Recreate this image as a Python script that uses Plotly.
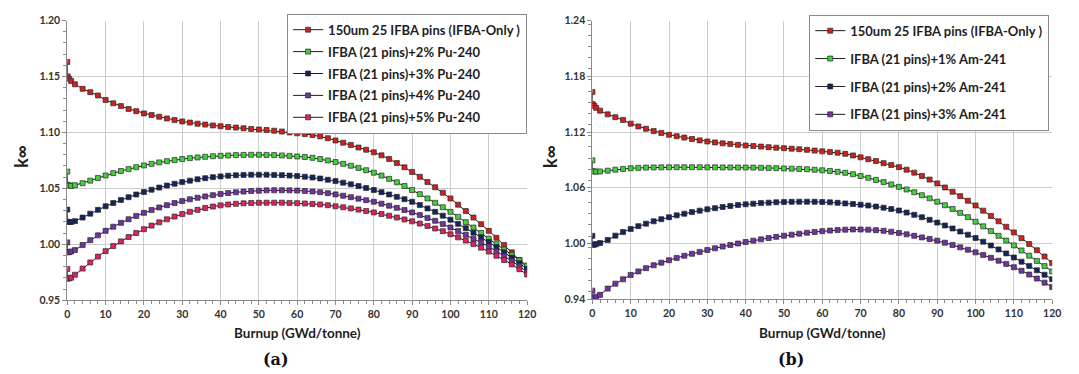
import plotly.graph_objects as go

# Burnup steps (GWd/tonne)
BURNUP = [0, 0.1, 0.5, 1, 2] + list(range(4, 121, 2))

# k-infinity, reference IFBA-only lattice (shared by both panels)
IFBA_ONLY = [1.163, 1.150, 1.148, 1.146, 1.143,
             1.139, 1.136, 1.133, 1.129, 1.126, 1.1235, 1.121, 1.119, 1.117, 1.1155,
             1.114, 1.1125, 1.111, 1.1098, 1.1088, 1.1078, 1.107, 1.1062, 1.1055, 1.1049,
             1.1043, 1.1037, 1.1031, 1.1026, 1.1021, 1.1015, 1.1008, 1.1000, 1.0992, 1.0985,
             1.0977, 1.0965, 1.0948, 1.0928, 1.0908, 1.0888, 1.0865, 1.0845, 1.0822, 1.0795,
             1.0763, 1.0727, 1.0688, 1.0647, 1.0603, 1.0557, 1.0510, 1.0461, 1.0410, 1.0354,
             1.0297, 1.0239, 1.0180, 1.0120, 1.0058, 0.9994, 0.9928, 0.9860, 0.9790]

# (a) IFBA (21 pins) + Pu-240
PU2 = [1.065, 1.0532, 1.0525, 1.0522, 1.0528,
       1.0546, 1.0569, 1.0592, 1.0615, 1.0636, 1.0655, 1.0672, 1.0689, 1.0705, 1.0719,
       1.0732, 1.0743, 1.0753, 1.0762, 1.0770, 1.0776, 1.0782, 1.0787, 1.0791, 1.0794,
       1.0797, 1.0799, 1.0800, 1.0800, 1.0799, 1.0797, 1.0794, 1.0790, 1.0785, 1.0780,
       1.0773, 1.0762, 1.0749, 1.0735, 1.0719, 1.0702, 1.0683, 1.0662, 1.0640, 1.0614,
       1.0585, 1.0554, 1.0521, 1.0485, 1.0448, 1.0410, 1.0371, 1.0331, 1.0290, 1.0245,
       1.0198, 1.0150, 1.0101, 1.0050, 1.0001, 0.9953, 0.9905, 0.9857, 0.9810]
PU3 = [1.031, 1.0201, 1.0199, 1.0200, 1.0207,
       1.0239, 1.0274, 1.0308, 1.0340, 1.0369, 1.0396, 1.0421, 1.0445, 1.0467, 1.0488,
       1.0507, 1.0525, 1.0541, 1.0556, 1.0569, 1.0581, 1.0591, 1.0600, 1.0607, 1.0613,
       1.0617, 1.0620, 1.0622, 1.0622, 1.0622, 1.0620, 1.0618, 1.0614, 1.0610, 1.0604,
       1.0597, 1.0588, 1.0577, 1.0565, 1.0551, 1.0536, 1.0520, 1.0503, 1.0485, 1.0466,
       1.0445, 1.0424, 1.0403, 1.0380, 1.0351, 1.0321, 1.0290, 1.0256, 1.0220, 1.0183,
       1.0144, 1.0104, 1.0063, 1.0020, 0.9975, 0.9928, 0.9880, 0.9831, 0.9780]
PU4 = [1.0017, 0.9928, 0.9930, 0.9936, 0.9948,
       0.9993, 1.0037, 1.0080, 1.0120, 1.0157, 1.0192, 1.0224, 1.0254, 1.0281, 1.0306,
       1.0329, 1.0350, 1.0369, 1.0386, 1.0402, 1.0416, 1.0428, 1.0439, 1.0449, 1.0458,
       1.0465, 1.0471, 1.0476, 1.0479, 1.0482, 1.0483, 1.0483, 1.0482, 1.0480, 1.0477,
       1.0472, 1.0466, 1.0457, 1.0446, 1.0434, 1.0421, 1.0408, 1.0394, 1.0380, 1.0363,
       1.0345, 1.0326, 1.0306, 1.0285, 1.0261, 1.0236, 1.0210, 1.0181, 1.0150, 1.0118,
       1.0085, 1.0050, 1.0015, 0.9980, 0.9938, 0.9895, 0.9850, 0.9803, 0.9755]
PU5 = [0.978, 0.9693, 0.9696, 0.9702, 0.9728,
       0.9783, 0.9838, 0.9890, 0.9939, 0.9984, 1.0026, 1.0065, 1.0101, 1.0135, 1.0167,
       1.0196, 1.0223, 1.0248, 1.0270, 1.0290, 1.0308, 1.0324, 1.0337, 1.0348, 1.0356,
       1.0362, 1.0366, 1.0369, 1.0371, 1.0372, 1.0372, 1.0372, 1.0370, 1.0368, 1.0365,
       1.0361, 1.0356, 1.0349, 1.0340, 1.0331, 1.0321, 1.0310, 1.0298, 1.0285, 1.0270,
       1.0255, 1.0239, 1.0222, 1.0205, 1.0185, 1.0164, 1.0141, 1.0117, 1.0090, 1.0062,
       1.0033, 1.0002, 0.9970, 0.9935, 0.9898, 0.9860, 0.9820, 0.9777, 0.9730]

# (b) IFBA (21 pins) + Am-241
AM1 = [1.0895, 1.0777, 1.0775, 1.0774, 1.0775,
       1.0784, 1.0795, 1.0803, 1.0810, 1.0814, 1.0817, 1.0819, 1.0820, 1.0821, 1.0821,
       1.0821, 1.0821, 1.0821, 1.0820, 1.0820, 1.0819, 1.0819, 1.0818, 1.0818, 1.0817,
       1.0815, 1.0813, 1.0811, 1.0808, 1.0806, 1.0803, 1.0799, 1.0794, 1.0788, 1.0781,
       1.0772, 1.0761, 1.0746, 1.0727, 1.0707, 1.0685, 1.0661, 1.0636, 1.0610, 1.0582,
       1.0552, 1.0520, 1.0486, 1.0450, 1.0412, 1.0372, 1.0330, 1.0284, 1.0235, 1.0185,
       1.0134, 1.0083, 1.0032, 0.9980, 0.9925, 0.9869, 0.9813, 0.9757, 0.9700]
AM2 = [1.0083, 0.9986, 0.9988, 0.9994, 1.0005,
       1.0038, 1.0085, 1.0123, 1.0157, 1.0187, 1.0214, 1.0239, 1.0262, 1.0283, 1.0303,
       1.0321, 1.0338, 1.0354, 1.0368, 1.0381, 1.0393, 1.0404, 1.0414, 1.0422, 1.0429,
       1.0435, 1.0440, 1.0444, 1.0447, 1.0449, 1.0450, 1.0450, 1.0449, 1.0447, 1.0443,
       1.0438, 1.0432, 1.0425, 1.0418, 1.0409, 1.0398, 1.0386, 1.0371, 1.0355, 1.0333,
       1.0309, 1.0283, 1.0255, 1.0225, 1.0194, 1.0162, 1.0129, 1.0095, 1.0060, 1.0020,
       0.9979, 0.9937, 0.9894, 0.9850, 0.9805, 0.9759, 0.9712, 0.9664, 0.9616]
AM3 = [0.9493, 0.9414, 0.9418, 0.9428, 0.9448,
       0.9515, 0.9568, 0.9615, 0.9662, 0.9700, 0.9735, 0.9766, 0.9794, 0.9820, 0.9845,
       0.9868, 0.9890, 0.9910, 0.9930, 0.9949, 0.9967, 0.9984, 1.0000, 1.0016, 1.0031,
       1.0045, 1.0059, 1.0072, 1.0084, 1.0095, 1.0106, 1.0116, 1.0125, 1.0133, 1.0139,
       1.0145, 1.0149, 1.0151, 1.0151, 1.0149, 1.0144, 1.0137, 1.0127, 1.0114, 1.0099,
       1.0083, 1.0066, 1.0049, 1.0031, 1.0009, 0.9985, 0.9959, 0.9933, 0.9905, 0.9877,
       0.9847, 0.9815, 0.9781, 0.9745, 0.9707, 0.9666, 0.9623, 0.9579, 0.9533]

LABELS_A = ["150um 25 IFBA pins (IFBA-Only )", "IFBA (21 pins)+2% Pu-240",
            "IFBA (21 pins)+3% Pu-240", "IFBA (21 pins)+4% Pu-240",
            "IFBA (21 pins)+5% Pu-240"]
LABELS_B = ["150um 25 IFBA pins (IFBA-Only )", "IFBA (21 pins)+1% Am-241",
            "IFBA (21 pins)+2% Am-241", "IFBA (21 pins)+3% Am-241"]

RED, GREEN, NAVY, PURPLE, CRIMSON = "#d0201c", "#3fd03a", "#15245c", "#7232a3", "#e0215e"

for s in (IFBA_ONLY, PU2, PU3, PU4, PU5, AM1, AM2, AM3):
    assert len(s) == len(BURNUP)

W, H = 1079, 374
FONT = "Lato"
TXT = "#1e1e1e"


def px(x):
    return x / W


def py(y):
    return 1 - y / H


fig = go.Figure()


def add_series(y, name, color, xa, ya, legend, group):
    fig.add_trace(go.Scatter(
        x=BURNUP, y=y, name=name, mode="lines+markers",
        xaxis=xa, yaxis=ya, legend=legend, legendgroup=group,
        line=dict(color="#1c1c1c", width=1),
        marker=dict(symbol="square", size=5, color=color,
                    line=dict(color="#2a2a2a", width=0.7)),
    ))


for y, name, color, g in zip((IFBA_ONLY, PU2, PU3, PU4, PU5), LABELS_A,
                             (RED, GREEN, NAVY, PURPLE, CRIMSON), "abcde"):
    add_series(y, name, color, "x", "y", "legend", "a" + g)

for y, name, color, g in zip((IFBA_ONLY, AM1, AM2, AM3), LABELS_B,
                             (RED, GREEN, NAVY, PURPLE), "abcd"):
    add_series(y, name, color, "x2", "y2", "legend2", "b" + g)

tickfont = dict(family=FONT, size=10.5, color="#333333", weight="bold")
axis_common = dict(
    showgrid=True, gridcolor="#cdcdcd", gridwidth=1,
    showline=True, linecolor="#8a8a8a", linewidth=1,
    ticks="outside", ticklen=4, tickcolor="#8a8a8a",
    zeroline=False, tickfont=tickfont,
)
x_common = dict(axis_common, range=[0, 120], tick0=0, dtick=10,
                minor=dict(dtick=2, ticks="outside", ticklen=3, tickcolor="#8a8a8a", showgrid=False))

legend_font = dict(family=FONT, size=13, color=TXT, weight="bold")

fig.update_layout(
    width=W, height=H,
    margin=dict(l=0, r=0, t=0, b=0),
    paper_bgcolor="white", plot_bgcolor="white",
    font=dict(family=FONT, color=TXT),
    xaxis=dict(x_common, domain=[px(65), px(530)], anchor="y"),
    yaxis=dict(axis_common, domain=[py(304), py(15)], anchor="x",
               range=[0.95, 1.20], tick0=0.95, dtick=0.05, tickformat=".2f",
               minor=dict(dtick=0.01, ticks="outside", ticklen=3, tickcolor="#8a8a8a", showgrid=False)),
    xaxis2=dict(x_common, domain=[px(596), px(1061)], anchor="y2"),
    yaxis2=dict(axis_common, domain=[py(303), py(15)], anchor="x2",
                range=[0.94, 1.24], tick0=0.94, dtick=0.06, tickformat=".2f",
                minor=dict(dtick=0.012, ticks="outside", ticklen=3, tickcolor="#8a8a8a", showgrid=False)),
    legend=dict(x=px(530), y=py(8), xanchor="right", yanchor="top",
                bgcolor="white", bordercolor="#8a8a8a", borderwidth=1,
                font=legend_font, tracegroupgap=2, itemwidth=30),
    legend2=dict(x=px(1058), y=py(9), xanchor="right", yanchor="top",
                 bgcolor="white", bordercolor="#8a8a8a", borderwidth=1,
                 font=legend_font, tracegroupgap=8, itemwidth=30),
    showlegend=True,
)

title_font = dict(family=FONT, size=13.5, color=TXT, weight="bold")
kinf_font = dict(family=FONT, size=18, color=TXT, weight="bold")
cap_font = dict(family="DejaVu Serif", size=16, color="#111111", weight="bold")

for cx, kx, capx, cap in ((297.5, 18, 276, "(a)"), (828.5, 553, 797, "(b)")):
    fig.add_annotation(text="Burnup (GWd/tonne)", x=px(cx), y=py(338), xref="paper", yref="paper",
                       showarrow=False, xanchor="center", yanchor="middle", font=title_font)
    fig.add_annotation(text="k∞", x=px(kx), y=py(155), xref="paper", yref="paper",
                       showarrow=False, xanchor="center", yanchor="middle", textangle=-90,
                       font=kinf_font)
    fig.add_annotation(text=cap, x=px(capx), y=py(365), xref="paper", yref="paper",
                       showarrow=False, xanchor="center", yanchor="middle", font=cap_font)

fig.write_html("out.html", config={"displayModeBar": False})
